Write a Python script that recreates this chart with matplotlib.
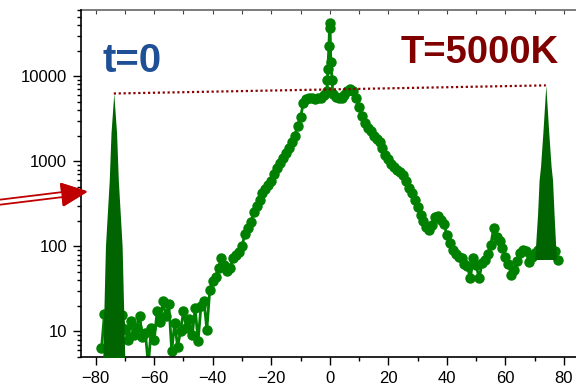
import numpy as np
import matplotlib.pyplot as plt
from matplotlib.patches import FancyArrow
from matplotlib.ticker import LogLocator, NullFormatter, MultipleLocator

plt.rcParams['font.family'] = ['Liberation Sans', 'DejaVu Sans']

# main spectrum
left_x = np.arange(-78, 0)
left_y = [6.3, 16, 10.7, 8, 6, 9, 12, 15.7, 10.7, 7.9,
          13.1, 9, 11, 15.3, 8.7, 9.5, 4, 11, 7.9, 17.2,
          13, 22.5, 15, 21, 5.9, 12.6, 6.6, 10, 17.2, 11,
          14, 9, 18.8, 7.7, 20, 23, 10.5, 31, 39, 44,
          56, 73, 61, 51, 56, 73, 80, 85, 100, 140,
          165, 195, 250, 300, 350, 420, 470, 520, 580, 700,
          840, 960, 1100, 1250, 1450, 1700, 2000, 2600, 3300, 4900,
          5400, 5600, 5550, 5450, 5500, 5600, 6000, 6700]
spike_x = [-0.8, -0.7, -0.3, -0.05, 0.1, 0.35, 0.8]
spike_y = [9000, 12000, 22500, 42500, 37300, 14600, 8900]
right_x = np.arange(1, 79)
right_y = [6200, 5700, 5500, 5600, 6000, 6700, 7100, 6700, 5500, 4300,
           3400, 2800, 2450, 2250, 2000, 1850, 1700, 1450, 1200, 1050,
           920, 850, 800, 740, 690, 580, 490, 420, 350, 290,
           235, 200, 170, 155, 180, 220, 225, 205, 185, 135,
           110, 90, 82, 75, 72, 62, 58, 42, 72, 60,
           42, 63, 70, 82, 105, 165, 130, 115, 95, 75,
           62, 46, 53, 68, 83, 90, 88, 66, 75, 83,
           90, 85, 95, 100, 90, 85, 87, 70]

# reference peaks (filled)
left_peak_center = -73.8
left_peak_off = [-4.2, -3.4, -2.85, -1.55, -0.95, 0, 0.95, 1.55, 2.85, 3.4, 4.2]
left_peak_vals = [1, 16.6, 100, 600, 2160, 6260, 2160, 600, 100, 16.6, 1]
left_peak_base = 1
right_peak_center = 73.8
right_peak_off = [-3.8, -2.8, -2.3, -1.8, -1.0, 0, 1.0, 1.8, 2.3, 2.8, 3.6]
right_peak_vals = [70, 245, 600, 870, 2190, 7800, 2190, 870, 600, 245, 70]
right_peak_base = 70

ref_x = [left_peak_center, right_peak_center]
ref_y = [6260, 7800]

fig = plt.figure(figsize=(5.76, 3.88), dpi=100)
ax = fig.add_axes([81 / 576, 31 / 388, 497.6 / 576, 347 / 388])
ax.set_yscale('log')
ax.set_xlim(-85, 85)
ax.set_ylim(5, 60000)

x_main = np.concatenate([left_x, spike_x, right_x])
y_main = np.concatenate([left_y, spike_y, right_y])
ax.plot(x_main, y_main, '-o', color='#008000', ms=6.5, lw=2, zorder=2)

ax.fill_between(left_peak_center + np.array(left_peak_off), left_peak_vals,
                left_peak_base, color='#006400', lw=0, zorder=3)
ax.fill_between(right_peak_center + np.array(right_peak_off), right_peak_vals,
                right_peak_base, color='#006400', lw=0, zorder=3)

ax.plot(ref_x, ref_y, color='#8b0000', ls=(0, (1, 1.2)), lw=1.6, zorder=4)

ax.text(0.1025, 0.8222, 't=0', transform=ax.transAxes, ha='center', va='baseline',
        fontsize=29, fontweight='bold', color='#1f5096')
ax.text(0.8019, 0.8464, 'T=5000K', transform=ax.transAxes, ha='center', va='baseline',
        fontsize=27.5, fontweight='bold', color='#800000')

# ticks
ax.set_xticks(np.arange(-80, 81, 20))
ax.xaxis.set_minor_locator(MultipleLocator(10))
ax.set_yticks([10, 100, 1000, 10000], labels=['10', '100', '1000', '10000'])
ax.yaxis.set_minor_locator(LogLocator(base=10, subs=np.arange(2, 10)))
ax.yaxis.set_minor_formatter(NullFormatter())
ax.tick_params(which='major', length=6, width=1, direction='out', labelsize=12, pad=4)
ax.tick_params(which='minor', length=3, width=1, direction='out')

for side in ['right', 'top']:
    ax.spines[side].set_visible(False)
ax.spines['left'].set_linewidth(1.2)
ax.spines['bottom'].set_linewidth(1.2)

sec = ax.secondary_xaxis('top')
sec.set_xticks(np.arange(-80, 81, 10))
sec.tick_params(direction='in', length=3, width=0.8, labeltop=False, color='#444444')
sec.spines['top'].set_color('#666666')
sec.spines['top'].set_linewidth(1.2)

# double-line arrow pointing at the axis
red = '#c00000'
fig.add_artist(FancyArrow(-0.1, 1.846, 0.96, 0.117, width=0.05, head_width=0.22,
                          head_length=0.24, length_includes_head=True, fc='white',
                          ec=red, lw=1.3, transform=fig.dpi_scale_trans))
fig.add_artist(FancyArrow(0.622, 1.934, 0.238, 0.029, width=0.001, head_width=0.22,
                          head_length=0.24, length_includes_head=True, fc=red,
                          ec=red, lw=1, transform=fig.dpi_scale_trans))

fig.savefig('out.png', dpi=100)
